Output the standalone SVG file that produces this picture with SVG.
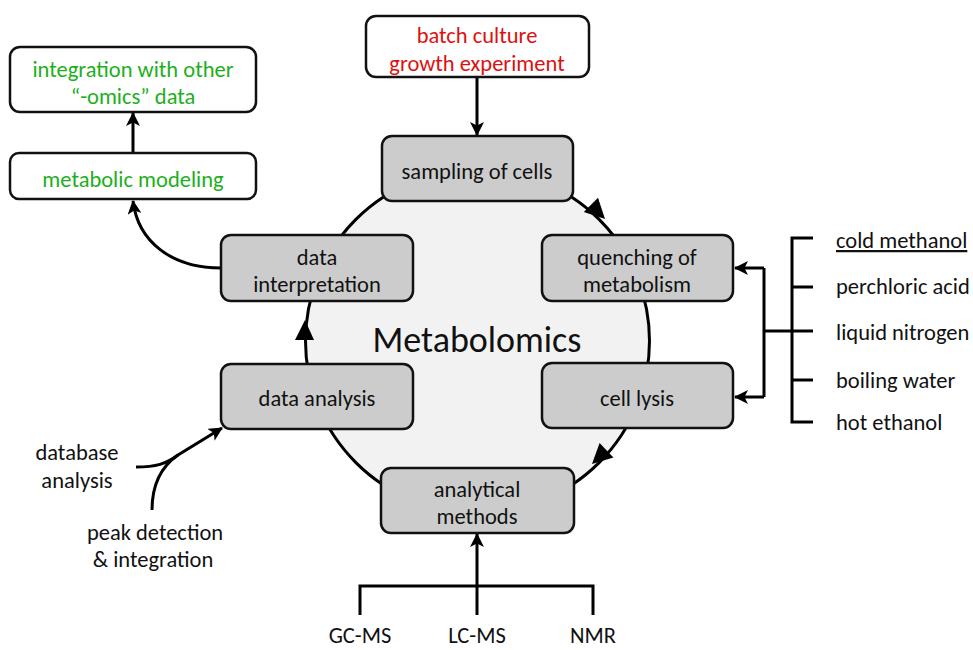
<svg xmlns="http://www.w3.org/2000/svg" width="973" height="650" viewBox="0 0 973 650">
  <defs>
    <style>
      text { font-family: Carlito, "Open Sans", "Noto Sans", sans-serif; font-size: 22.5px; fill: #111; text-anchor: middle; }
      .lbl { text-anchor: start; }
      .green { fill: #1cb01c; }
      .red { fill: #dd1111; }
      .box { stroke: #111; stroke-width: 2.5; }
      .white { fill: #ffffff; }
      .grey { fill: #cccccc; }
      .ln { fill: none; stroke: #000; stroke-width: 3; }
      .head { fill: #000; }
      .title { font-size: 36px; }
    </style>
    <marker id="chev" viewBox="0 0 14 14" refX="13" refY="7" markerUnits="userSpaceOnUse" markerWidth="14" markerHeight="14" orient="auto">
      <path d="M0,0 L14,7 L0,14 L3.5,7 Z" fill="#000"/>
    </marker>
  </defs>

  <!-- central cycle -->
  <circle cx="477.5" cy="341" r="172" fill="#f2f2f2" stroke="#000" stroke-width="3"/>
  <text class="title" x="477" y="352">Metabolomics</text>

  <g id="connectors">
    <!-- arrowheads along the cycle -->
    <polygon class="head" points="605,219 598,197.8 583.8,212"/>
    <polygon class="head" points="592,464 613.4,457.6 599.6,443"/>
    <polygon class="head" points="305,320 314,340 295,340"/>
    <!-- culture to sampling -->
    <path class="ln" d="M477 77 L477 135" marker-end="url(#chev)"/>
    <!-- interpretation to modeling to integration -->
    <path class="ln" d="M221 268 C172 268 138 242 133 201" marker-end="url(#chev)"/>
    <path class="ln" d="M133 153 L133 113" marker-end="url(#chev)"/>
    <!-- quenching/lysis methods bracket -->
    <path class="ln" d="M813 238 L792 238 L792 422 L813 422"/>
    <path class="ln" d="M792 287 L813 287 M792 331 L813 331 M792 380 L813 380"/>
    <path class="ln" d="M792 331 L764 331"/>
    <path class="ln" d="M764 268 L764 397"/>
    <path class="ln" d="M764 268 L735 268" marker-end="url(#chev)"/>
    <path class="ln" d="M764 397 L735 397" marker-end="url(#chev)"/>
    <!-- analytical platforms fork -->
    <path class="ln" d="M360 615 L360 586 L593 586 L593 615"/>
    <path class="ln" d="M477 615 L477 534" marker-end="url(#chev)"/>
    <!-- data analysis inputs -->
    <path class="ln" d="M136 467 C156 467 166 464 178 455"/>
    <path class="ln" d="M152 510 C152 484 162 466 178 455 L222 428" marker-end="url(#chev)"/>
  </g>

  <g id="batch-culture">
    <rect class="box white" x="366" y="16" width="223" height="61" rx="10"/>
    <text class="red" x="477" y="43">batch culture</text>
    <text class="red" x="477" y="71">growth experiment</text>
  </g>
  <g id="sampling">
    <rect class="box grey" x="382" y="136" width="191" height="65" rx="10"/>
    <text x="477" y="179">sampling of cells</text>
  </g>
  <g id="quenching">
    <rect class="box grey" x="542" y="235" width="191" height="66" rx="10"/>
    <text x="637" y="265">quenching of</text>
    <text x="637" y="292">metabolism</text>
  </g>
  <g id="cell-lysis">
    <rect class="box grey" x="542" y="363" width="191" height="65" rx="10"/>
    <text x="637" y="406">cell lysis</text>
  </g>
  <g id="analytical-methods">
    <rect class="box grey" x="381" y="468" width="193" height="65" rx="10"/>
    <text x="477" y="497">analytical</text>
    <text x="477" y="524">methods</text>
  </g>
  <g id="data-analysis">
    <rect class="box grey" x="221" y="364" width="192" height="65" rx="10"/>
    <text x="317" y="406">data analysis</text>
  </g>
  <g id="data-interpretation">
    <rect class="box grey" x="221" y="235" width="192" height="66" rx="10"/>
    <text x="317" y="265">data</text>
    <text x="317" y="292">interpretation</text>
  </g>
  <g id="metabolic-modeling">
    <rect class="box white" x="10" y="153" width="246" height="46" rx="9"/>
    <text class="green" x="133" y="187">metabolic modeling</text>
  </g>
  <g id="integration">
    <rect class="box white" x="10" y="47" width="246" height="65" rx="10"/>
    <text class="green" x="133" y="77">integration with other</text>
    <text class="green" x="133" y="104">“-omics” data</text>
  </g>

  <g id="quenching-methods">
    <text class="lbl" x="836" y="248" text-decoration="underline">cold methanol</text>
    <text class="lbl" x="836" y="294">perchloric acid</text>
    <text class="lbl" x="836" y="340">liquid nitrogen</text>
    <text class="lbl" x="836" y="388">boiling water</text>
    <text class="lbl" x="836" y="430">hot ethanol</text>
  </g>
  <g id="platforms">
    <text x="360" y="643">GC-MS</text>
    <text x="477" y="643">LC-MS</text>
    <text x="593" y="643">NMR</text>
  </g>
  <g id="analysis-inputs">
    <text x="77" y="460">database</text>
    <text x="77" y="488">analysis</text>
    <text x="155" y="540">peak detection</text>
    <text x="153" y="567">&amp; integration</text>
  </g>
</svg>
